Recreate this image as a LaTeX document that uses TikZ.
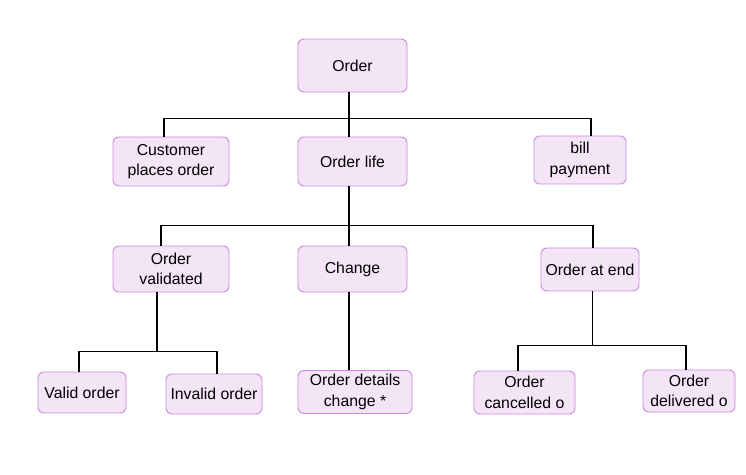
\documentclass[tikz,border=0pt]{standalone}
\usepackage{fontspec}
\setmainfont{Liberation Sans}
\definecolor{boxfill}{HTML}{F3E5F5}
\definecolor{boxline}{HTML}{C98BDF}
\tikzset{
  box/.style 2 args={draw=boxline,fill=boxfill,rounded corners=6bp,line width=0.9bp,
    align=center,inner sep=0pt,minimum width=#1,minimum height=#2,
    font=\fontsize{15.8bp}{20.5bp}\selectfont},
  link/.style={draw=black,line width=1.1bp}
}
\begin{document}
\begin{tikzpicture}[x=1bp,y=-1bp]
\useasboundingbox (0,0) rectangle (746,475);
% boxes
\node[box={109bp}{53bp}] (order) at (352.5,65.5) {Order};
\node[box={116bp}{49bp}] (cust) at (171,161.5) {Customer\\places order};
\node[box={109bp}{49bp}] (life) at (352.5,161.5) {Order life};
\node[box={92bp}{48bp}] (bill) at (580,160) {bill\\payment};
\node[box={116bp}{46bp}] (validated) at (171,269) {Order\\validated};
\node[box={109bp}{46bp}] (change) at (352.5,269) {Change};
\node[box={98bp}{43bp}] (atend) at (590,269.5) {Order at end};
\node[box={88bp}{41bp}] (valid) at (82,392.5) {Valid order};
\node[box={96bp}{40bp}] (invalid) at (214,394) {Invalid order};
\node[box={114bp}{43bp}] (details) at (355,392) {Order details\\change *};
\node[box={101bp}{43bp}] (cancel) at (524.5,392.5) {Order\\cancelled o};
\node[box={92bp}{42bp}] (deliv) at (689,391) {Order\\delivered o};
% connectors
\draw[link] ([xshift=-3.5bp]order.south) -- ++(0,26) -| ([xshift=-7bp]cust.north);
\draw[link] ([xshift=-3.5bp]order.south) -- ++(0,26) -| ([xshift=11bp]bill.north);
\draw[link] ([xshift=-3.5bp]order.south) -- ([xshift=-3.5bp]life.north);
\draw[link] ([xshift=-3.5bp]life.south) -- ++(0,39) -| ([xshift=-10bp]validated.north);
\draw[link] ([xshift=-3.5bp]life.south) -- ++(0,39) -| ([xshift=3bp]atend.north);
\draw[link] ([xshift=-3.5bp]life.south) -- ([xshift=-3.5bp]change.north);
\draw[link] ([xshift=-14bp]validated.south) -- ++(0,59) -| ([xshift=-3bp]valid.north);
\draw[link] ([xshift=-14bp]validated.south) -- ++(0,59) -| ([xshift=3bp]invalid.north);
\draw[link] ([xshift=-3.5bp]change.south) -- ([xshift=-3.5bp]change.south |- details.north);
\draw[link] ([xshift=2.5bp]atend.south) -- ++(0,54) -| ([xshift=-6.5bp]cancel.north);
\draw[link] ([xshift=2.5bp]atend.south) -- ++(0,54) -| ([xshift=-3bp]deliv.north);
\end{tikzpicture}
\end{document}
